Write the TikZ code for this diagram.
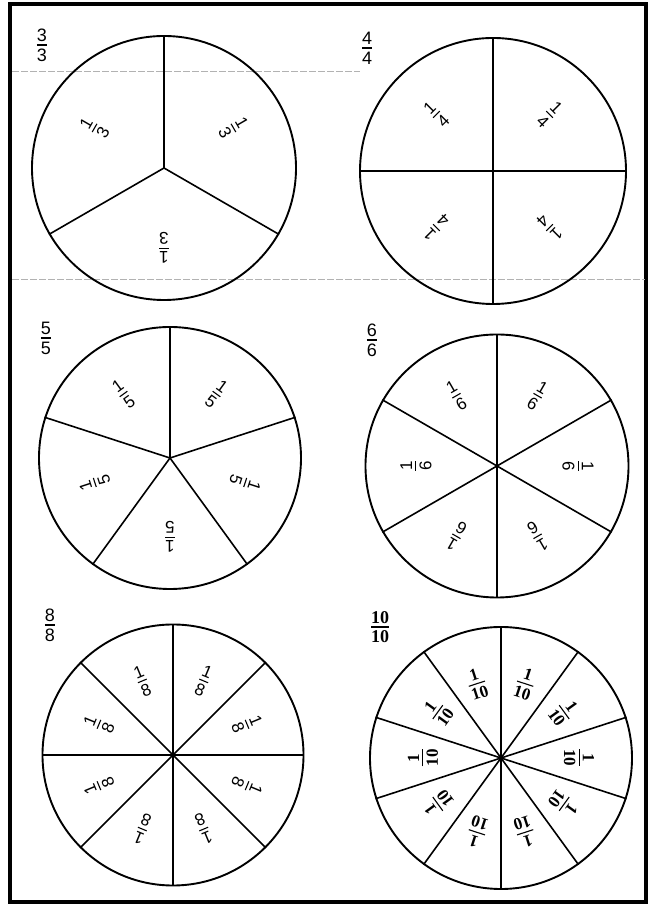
\documentclass[tikz,border=0pt]{standalone}
\usepackage{fontspec}
\setmainfont{Liberation Sans}
\newfontfamily\tenserif{Liberation Serif}
% fraction built as a small stack, bar as wide as the longer number
\newcommand{\frc}[2]{{\renewcommand{\arraystretch}{0}\setlength{\arrayrulewidth}{1.1pt}%
    \begin{tabular}{@{}c@{}}#1\\\noalign{\vskip 3.2pt}\hline\noalign{\vskip 3.2pt}#2\end{tabular}}}
\tikzset{
    pie/.style={circle, draw, line width=1.9pt, minimum size=#1, inner sep=0pt},
    spoke/.style={line width=1.6pt},
    piece/.style={font=\fontsize{17}{19}\selectfont, inner sep=0pt},
    tenpiece/.style={font=\tenserif\bfseries\fontsize{17}{19}\selectfont, inner sep=0pt},
    whole/.style={font=\fontsize{18}{20}\selectfont, inner sep=0pt},
    frame/.style={line width=3.2pt},
    scanline/.style={gray!60, line width=0.7pt, dash pattern=on 7pt off 2pt}
}
\begin{document}
\begin{tikzpicture}[x=1pt, y=1pt]
        \useasboundingbox (0,0) rectangle (654,907);
        % outer frame
        \draw[frame] (10,5) rectangle (646,903);
        % faint fold lines of the copy
        \draw[scanline] (12,836) -- (360,836);
        \draw[scanline] (12,628) -- (645,628);
        % Draw the circles
        \node[pie=264pt] (c3) at (164,739) {};
        \node[pie=266pt] (c4) at (493,736) {};
        \node[pie=262pt] (c5) at (170,449) {};
        \node[pie=263pt] (c6) at (497,441) {};
        \node[pie=261pt] (c8) at (173,152) {};
        \node[pie=262pt] (c10) at (501,149) {};
        % whole labels
        \node[whole] (t3) at (42,862) {\frc{3}{3}};
        \node[whole] (t4) at (367,859) {\frc{4}{4}};
        \node[whole] (t5) at (46,569) {\frc{5}{5}};
        \node[whole] (t6) at (372,567) {\frc{6}{6}};
        \node[whole] (t8) at (50,282) {\frc{8}{8}};
        \node[whole, font=\tenserif\bfseries\fontsize{18}{20}\selectfont] (t10) at (380,280) {\frc{10}{10}};
        % thirds
        \foreach \a in {90,210,330}
            \draw[spoke] (c3.center) -- (c3.\a);
        \foreach \a in {30,150,270}
            \node[piece, rotate=\a-90] (p3-\a) at ([shift={(\a:80)}]c3.center) {\frc{1}{3}};
        % quarters
        \foreach \a in {0,90,180,270}
            \draw[spoke] (c4.center) -- (c4.\a);
        \foreach \a in {45,135,225,315}
            \node[piece, rotate=\a-90] (p4-\a) at ([shift={(\a:80)}]c4.center) {\frc{1}{4}};
        % fifths
        \foreach \a in {90,18,-54,-126,162}
            \draw[spoke] (c5.center) -- (c5.\a);
        \foreach \a in {54,-18,-90,-162,126}
            \node[piece, rotate=\a-90] (p5-\a) at ([shift={(\a:79)}]c5.center) {\frc{1}{5}};
        % sixths
        \foreach \a in {90,30,-30,-90,-150,150}
            \draw[spoke] (c6.center) -- (c6.\a);
        \foreach \a in {60,0,-60,-120,180,120}
            \node[piece, rotate=\a-90] (p6-\a) at ([shift={(\a:81)}]c6.center) {\frc{1}{6}};
        % eighths
        \foreach \a in {0,45,...,315}
            \draw[spoke] (c8.center) -- (c8.\a);
        \foreach \a in {22.5,67.5,...,337.5}
            \node[piece, rotate=\a-90] (p8-\a) at ([shift={(\a:80)}]c8.center) {\frc{1}{8}};
        % tenths
        \foreach \a in {18,54,...,342}
            \draw[spoke] (c10.center) -- (c10.\a);
        \foreach \a in {0,36,...,324}
            \node[tenpiece, rotate=\a-90] (p10-\a) at ([shift={(\a:78)}]c10.center) {\frc{1}{10}};
\end{tikzpicture}
\end{document}
